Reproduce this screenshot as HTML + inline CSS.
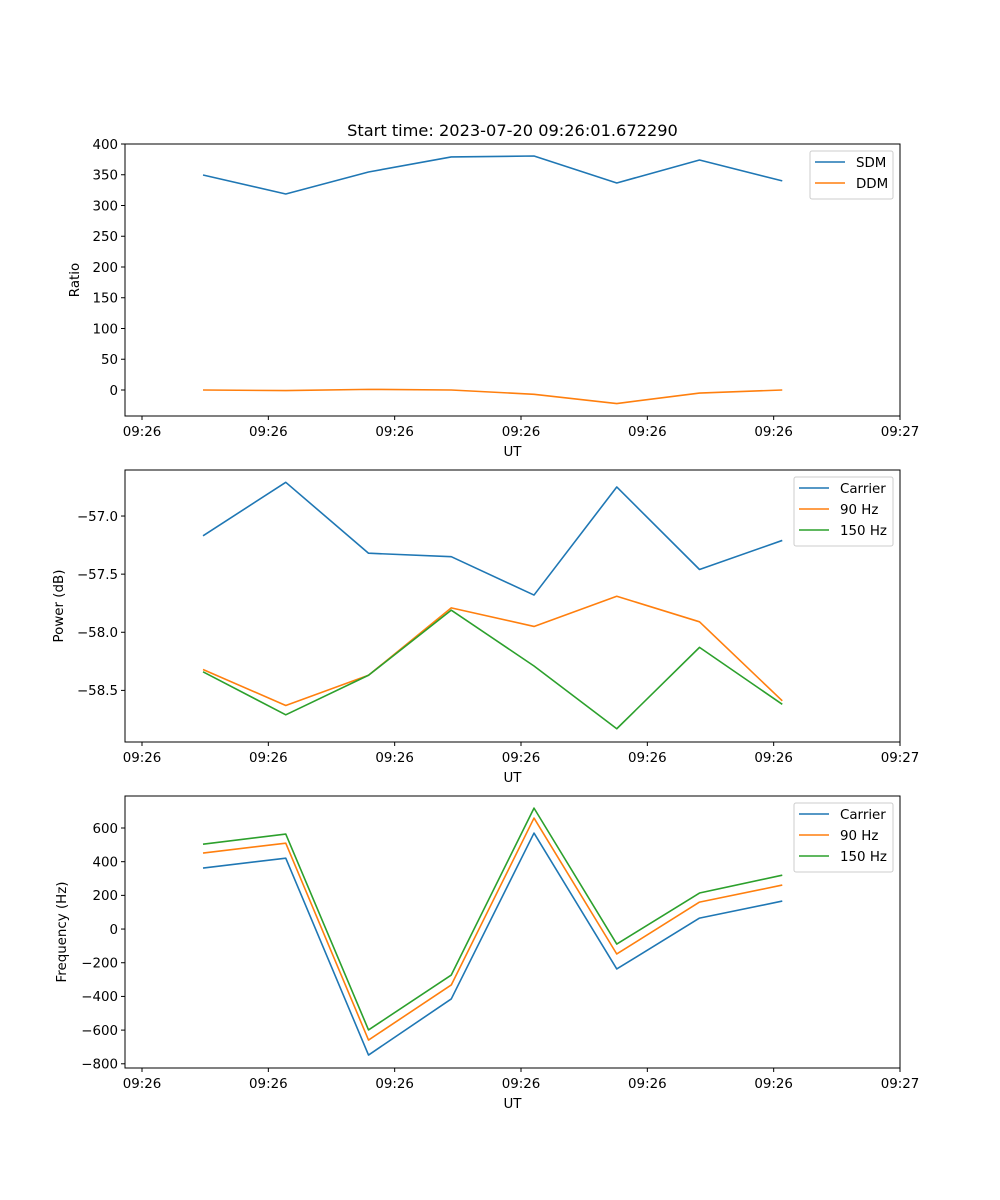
<!DOCTYPE html>
<html><head><meta charset="utf-8"><style>
body{margin:0;background:#fff}
svg{display:block;font-family:"DejaVu Sans","Liberation Sans",sans-serif}
</style></head><body>
<svg id="fig" width="1000" height="1200" viewBox="0 0 1000 1200" xmlns="http://www.w3.org/2000/svg">
<rect width="1000" height="1200" fill="#fff"/>
<text x="512.5" y="136" font-size="16.2" text-anchor="middle">Start time: 2023-07-20 09:26:01.672290</text>
</svg>
<script>
// x values in seconds after 09:26:00
const times = [4.83, 11.38, 17.93, 24.48, 31.03, 37.58, 44.13, 50.68];
const xTickVals = [0, 10, 20, 30, 40, 50, 60];
const xTickLabels = ["09:26","09:26","09:26","09:26","09:26","09:26","09:27"];

const sdm = [349.6, 318.7, 354.5, 379, 380.5, 336.6, 374, 340];
const ddm = [0, -1, 1, 0, -7, -22, -5, 0];
const ratioTicks = [0, 50, 100, 150, 200, 250, 300, 350, 400];

const powCarrier = [-57.17, -56.71, -57.32, -57.35, -57.68, -56.75, -57.46, -57.21];
const pow90 = [-58.32, -58.63, -58.37, -57.79, -57.95, -57.69, -57.91, -58.59];
const pow150 = [-58.34, -58.71, -58.37, -57.81, -58.29, -58.83, -58.13, -58.62];
const powTicks = [-57.0, -57.5, -58.0, -58.5];

const freqCarrier = [362, 421, -748, -415, 570, -237, 65, 166];
const freq90 = [451, 510, -659, -332, 659, -148, 160, 261];
const freq150 = [504, 564, -599, -273, 718, -89, 214, 320];
const freqTicks = [-800, -600, -400, -200, 0, 200, 400, 600];

const NS = "http://www.w3.org/2000/svg";
const svg = document.getElementById('fig');
function mk(tag, attrs, parent){const e=document.createElementNS(NS,tag);for(const k in attrs)e.setAttribute(k,attrs[k]);(parent||svg).appendChild(e);return e;}

const L=125,R=900;
const xMin=-1.346,xMax=60;
const FS=13.4;
function xs(t){return L+(t-xMin)/(xMax-xMin)*(R-L);}

function panel(opt){
  const g=mk('g',{});
  
  
  const T=opt.top,B=opt.top+272;
  const ys=v=>B-(v-opt.ymin)/(opt.ymax-opt.ymin)*(B-T);
  opt.series.forEach(s=>{
    const pts=times.map((t,i)=>xs(t).toFixed(2)+','+ys(s.vals[i]).toFixed(2)).join(' ');
    const pl=mk('polyline',{points:pts,fill:'none',stroke:s.color,'stroke-width':1.6,'stroke-linejoin':'round'},g);
    
    
  });
  const fr=mk('rect',{x:L,y:T,width:R-L,height:B-T,fill:'none',stroke:'#000','stroke-width':1},g);
  
  
  xTickVals.forEach((v,i)=>{
    const x=xs(v);
    mk('line',{x1:x,x2:x,y1:B,y2:B+4,stroke:'#000','stroke-width':1},g);
    const t=mk('text',{x:x,y:B+20,'font-size':FS,'text-anchor':'middle'},g);
    t.textContent=xTickLabels[i];
    
    
  });
  const xl=mk('text',{x:(L+R)/2,y:B+40,'font-size':FS,'text-anchor':'middle'},g);
  xl.textContent='UT';
  
  
  opt.ticks.forEach(v=>{
    const y=ys(v);
    mk('line',{x1:L-4,x2:L,y1:y,y2:y,stroke:'#000','stroke-width':1},g);
    const t=mk('text',{x:L-7,y:y+4.8,'font-size':FS,'text-anchor':'end'},g);
    t.textContent=opt.fmt(v);
    
    
  });
  const yl=mk('text',{x:0,y:0,'font-size':FS,'text-anchor':'middle',transform:`translate(${opt.ylx},${(T+B)/2}) rotate(-90)`},g);
  yl.textContent=opt.ylabel;
  
  
  const n=opt.series.length, lw=opt.legW, lx=R-7-lw, ly=T+7;
  const lg=mk('g',{},g);
  
  
  mk('rect',{x:lx,y:ly,width:lw,height:12+21*n-6,rx:2,fill:'#fff','fill-opacity':0.8,stroke:'#ccc','stroke-width':1},lg);
  opt.series.forEach((s,i)=>{
    const yy=ly+11+21*i;
    mk('line',{x1:lx+5,x2:lx+35,y1:yy,y2:yy,stroke:s.color,'stroke-width':1.6},lg);
    const t=mk('text',{x:lx+46,y:yy+4.8,'font-size':FS},lg);
    t.textContent=s.label;
    
    
  });
}
const C1='#1f77b4',C2='#ff7f0e',C3='#2ca02c';
panel({name:'ratio-panel',top:144,ymin:-42.3,ymax:400,ticks:ratioTicks,fmt:v=>String(v).replace('-','\u2212'),ylabel:'Ratio',ylx:79,legW:83,
  series:[{id:'sdm-line',label:'SDM',color:C1,vals:sdm},{id:'ddm-line',label:'DDM',color:C2,vals:ddm}]});
panel({name:'power-panel',top:470,ymin:-58.944,ymax:-56.604,ticks:powTicks,fmt:v=>'\u2212'+Math.abs(v).toFixed(1),ylabel:'Power (dB)',ylx:63,legW:99,
  series:[{id:'power-carrier-line',label:'Carrier',color:C1,vals:powCarrier},{id:'power-90hz-line',label:'90 Hz',color:C2,vals:pow90},{id:'power-150hz-line',label:'150 Hz',color:C3,vals:pow150}]});
panel({name:'frequency-panel',top:796,ymin:-825,ymax:790,ticks:freqTicks,fmt:v=>String(v).replace('-','\u2212'),ylabel:'Frequency (Hz)',ylx:66,legW:99,
  series:[{id:'freq-carrier-line',label:'Carrier',color:C1,vals:freqCarrier},{id:'freq-90hz-line',label:'90 Hz',color:C2,vals:freq90},{id:'freq-150hz-line',label:'150 Hz',color:C3,vals:freq150}]});
</script>
</body></html>
